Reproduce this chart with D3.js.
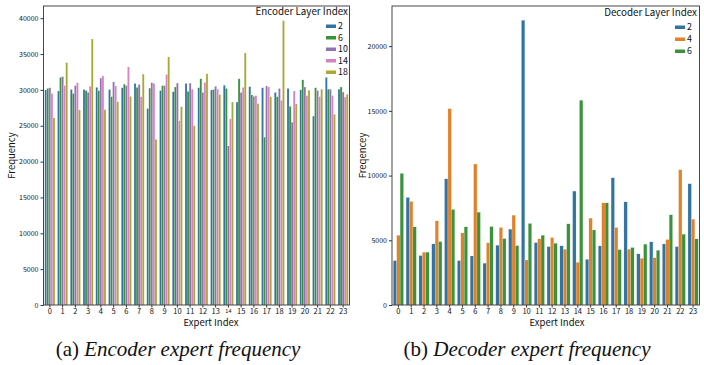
<!DOCTYPE html>
<html>
<head>
<meta charset="utf-8">
<script src="https://cdn.jsdelivr.net/npm/d3@7"></script>
<style>
  html, body { margin: 0; padding: 0; background: #fff; }
  svg { display: block; }
  text { font-family: "Noto Sans CJK JP", "DejaVu Sans", sans-serif; fill: #111; }
</style>
</head>
<body>
<svg id="chart" width="704" height="365"></svg>
<script>
const experts = d3.range(24).map(String);

const encoderLayers = ["2", "6", "10", "14", "18"];
const encL2  = [30000,29850,30050,30050,30350,30050,30300,30900,27400,29900,29750,30900,30300,30000,30650,28300,30450,30300,29650,30200,30000,26350,31750,30100];
const encL6  = [30200,31750,29500,29900,29900,29050,30800,30350,30250,30600,30400,29800,31550,30050,30200,31550,29300,23400,29050,27700,31400,30300,30100,30400];
const encL10 = [30300,31850,30600,29650,31650,31100,30600,30750,31000,30600,30950,30950,29650,30500,22200,29650,29100,30550,30200,25500,30400,29900,30100,29700];
const encL14 = [29500,30600,31000,30500,31950,30550,33200,29050,30900,32150,25700,30100,31050,30100,25950,30350,29200,30400,28550,29850,29200,29050,29200,29000];
const encL18 = [26100,33800,27200,37100,27250,28350,29100,32200,23100,34600,27650,25000,32250,29350,28300,35150,28100,29050,39650,28050,29950,30100,26600,29400];
const encColors = ["#3274a1", "#3a923a", "#9372b2", "#d684bd", "#a9aa35"];

const decoderLayers = ["2", "4", "6"];
const decL2 = [3430,8310,3820,4720,9750,3430,3790,3230,4620,5860,22000,4820,4510,4570,8800,3530,4570,9830,7970,3950,4880,4720,4510,9370];
const decL4 = [5390,8000,4080,6500,15170,5570,10890,4800,5990,6940,3480,5110,5210,4310,3300,6710,7890,5990,4310,3610,3660,5060,10450,6630];
const decL6 = [10170,6040,4080,4900,7380,6040,7170,6060,5130,4590,6300,5390,4770,6270,15820,5800,7890,4280,4440,4700,4230,6970,5470,5110];
const decColors = ["#3274a1", "#e1812c", "#3a923a"];

const encTicks = [0,5000,10000,15000,20000,25000,30000,35000,40000];
const decTicks = [0,5000,10000,15000,20000];

const svg = d3.select("#chart");

function panel(opts) {
  const { left, right, top, bottom, yMax, ticks, layers, series, colors,
          ylabel, ylabelX, xlabelX, legendTitle, legendTitleX, legendTitleY,
          legendSwX, legendY0, legendStep, captionPrefix, captionText, captionX, small14 } = opts;

  const x = d3.scaleBand().domain(experts).range([left, right]).paddingInner(0.2).paddingOuter(0.1);
  const xs = d3.scaleBand().domain(layers).range([0, x.bandwidth()]);
  const y = d3.scaleLinear().domain([0, yMax]).range([bottom, top]);

  const rows = [];
  experts.forEach((e, i) => layers.forEach((l, j) => rows.push({ e, l, j, v: series[j][i] })));

  const g = svg.append("g");
  g.selectAll("rect.bar").data(rows).join("rect")
    .attr("class", "bar")
    .attr("x", d => x(d.e) + xs(d.l))
    .attr("width", xs.bandwidth())
    .attr("y", d => y(d.v))
    .attr("height", d => y(0) - y(d.v))
    .attr("fill", d => colors[d.j])
    .attr("stroke", "#ffffff")
    .attr("stroke-width", 0.3)
    .attr("stroke-opacity", 0.6);

  const ya = g.append("g").attr("transform", `translate(${left},0)`)
    .call(d3.axisLeft(y).tickValues(ticks).tickSize(3).tickPadding(2).tickFormat(d3.format("d")));
  ya.select(".domain").remove();
  ya.selectAll("line").attr("stroke", "#333");
  ya.selectAll("text").style("font-size", "7px");

  const xa = g.append("g").attr("transform", `translate(0,${bottom})`)
    .call(d3.axisBottom(x).tickSize(2.5).tickPadding(1.5));
  xa.select(".domain").remove();
  xa.selectAll("line").attr("stroke", "#333");
  xa.selectAll("text").style("font-size", "7.5px");
  if (small14) xa.selectAll(".tick text").filter(d => d === "14").style("font-size", "5.5px");

  g.append("rect").attr("x", left).attr("y", top).attr("width", right - left).attr("height", bottom - top)
    .attr("fill", "none").attr("stroke", "#333").attr("stroke-width", 0.9);

  g.append("text").attr("transform", `translate(${ylabelX},${(top + bottom) / 2}) rotate(-90)`)
    .attr("text-anchor", "middle").attr("dy", "0.35em").style("font-size", "9.5px").text(ylabel);
  g.append("text").attr("x", xlabelX).attr("y", bottom + 17.5).attr("text-anchor", "middle")
    .attr("dy", "0.35em").style("font-size", "9.5px").text("Expert Index");

  g.append("text").attr("x", legendTitleX).attr("y", legendTitleY).attr("text-anchor", "end")
    .attr("dy", "0.35em").style("font-size", "9.8px").text(legendTitle);
  layers.forEach((l, j) => {
    const yy = legendY0 + j * legendStep;
    g.append("rect").attr("x", legendSwX).attr("y", yy - 1.5).attr("width", 10).attr("height", 3.5).attr("fill", colors[j]);
    g.append("text").attr("x", legendSwX + 12).attr("y", yy).attr("dy", "0.35em").style("font-size", "8.8px").text(l);
  });

  const cap = svg.append("text").attr("x", captionX).attr("y", 356).attr("text-anchor", "middle")
    .style("font-family", "'Liberation Serif', 'DejaVu Serif', serif").style("font-size", "21px");
  cap.append("tspan").text(captionPrefix + " ");
  cap.append("tspan").style("font-style", "italic").text(captionText);
}

panel({
  left: 43.5, right: 349.5, top: 6, bottom: 305, yMax: 41700, ticks: encTicks,
  layers: encoderLayers, series: [encL2, encL6, encL10, encL14, encL18], colors: encColors,
  ylabel: "Frequency", ylabelX: 12, xlabelX: 211,
  legendTitle: "Encoder Layer Index", legendTitleX: 348, legendTitleY: 12,
  legendSwX: 326, legendY0: 26, legendStep: 11.5,
  captionPrefix: "(a)", captionText: "Encoder expert frequency", captionX: 178, small14: true
});

panel({
  left: 392, right: 699.5, top: 6, bottom: 305, yMax: 23100, ticks: decTicks,
  layers: decoderLayers, series: [decL2, decL4, decL6], colors: decColors,
  ylabel: "Freqencey", ylabelX: 363, xlabelX: 557,
  legendTitle: "Decoder Layer Index", legendTitleX: 697, legendTitleY: 13,
  legendSwX: 675, legendY0: 27, legendStep: 12,
  captionPrefix: "(b)", captionText: "Decoder expert frequency", captionX: 527, small14: false
});
</script>
</body>
</html>
